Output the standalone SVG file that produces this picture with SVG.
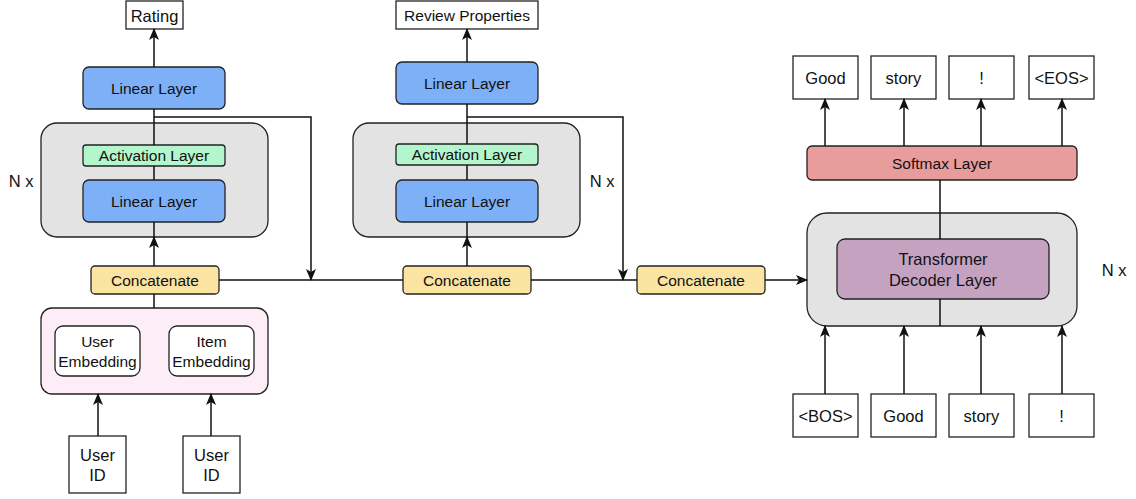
<svg xmlns="http://www.w3.org/2000/svg" width="1136" height="499" viewBox="0 0 1136 499">
<defs>
<marker id="arr" markerUnits="userSpaceOnUse" markerWidth="12" markerHeight="10" viewBox="0 0 12 10" refX="11" refY="5" orient="auto">
<path d="M0,0 L12,5 L0,10 L3,5 Z" fill="#111"/>
</marker>
</defs>
<style>
text{font-family:"Liberation Sans",Arial,sans-serif;fill:#111;text-anchor:middle;dominant-baseline:central}
.t{font-size:15.5px}
.b{font-size:16.5px}
.box{fill:#fff;stroke:#222;stroke-width:1.3}
.lin{fill:#7eb0f8;stroke:#222;stroke-width:1.3}
.act{fill:#b3f5cc;stroke:#222;stroke-width:1.3}
.cat{fill:#fbe3a2;stroke:#222;stroke-width:1.3}
.grey{fill:#e3e3e3;stroke:#222;stroke-width:1.3}
.pink{fill:#fcedf6;stroke:#222;stroke-width:1.3}
.emb{fill:#fff;stroke:#222;stroke-width:1.3}
.soft{fill:#e99c9c;stroke:#222;stroke-width:1.3}
.tdl{fill:#c6a2c1;stroke:#222;stroke-width:1.3}
.c{fill:none;stroke:#111;stroke-width:1.5}
.a{fill:none;stroke:#111;stroke-width:1.5;marker-end:url(#arr)}
</style>

<!-- Left stack -->
<g id="rating"><rect class="box" x="126" y="1" width="57" height="28"/><text class="b" x="154.5" y="15.5">Rating</text></g>
<g id="linear1"><rect class="lin" x="83" y="67" width="142" height="42" rx="6"/><text class="t" x="154" y="88">Linear Layer</text></g>
<g id="block1"><rect class="grey" x="41" y="123" width="227" height="114" rx="16"/></g>
<g id="act1"><rect class="act" x="83" y="145" width="142" height="21" rx="3"/><text class="t" x="154" y="155.5">Activation Layer</text></g>
<g id="linear1b"><rect class="lin" x="83" y="180" width="142" height="42" rx="6"/><text class="t" x="154" y="201">Linear Layer</text></g>
<g id="nx1"><text class="b" x="21" y="181">N x</text></g>
<g id="concat1"><rect class="cat" x="91" y="266" width="128" height="28" rx="4"/><text class="t" x="155" y="280">Concatenate</text></g>
<g id="embed"><rect class="pink" x="41" y="308" width="227" height="86" rx="11"/></g>
<g id="userEmb"><rect class="emb" x="55" y="326" width="85" height="50" rx="8"/><text class="t" x="97.5" y="341">User</text><text class="t" x="97.5" y="361">Embedding</text></g>
<g id="itemEmb"><rect class="emb" x="169" y="326" width="85" height="50" rx="8"/><text class="t" x="211.5" y="341">Item</text><text class="t" x="211.5" y="361">Embedding</text></g>
<g id="userId1"><rect class="box" x="69" y="436" width="57" height="57"/><text class="b" x="97.5" y="455">User</text><text class="b" x="97.5" y="475">ID</text></g>
<g id="userId2"><rect class="box" x="183" y="436" width="57" height="57"/><text class="b" x="211.5" y="455">User</text><text class="b" x="211.5" y="475">ID</text></g>

<!-- Middle stack -->
<g id="review"><rect class="box" x="396" y="1" width="142" height="28"/><text class="t" x="467" y="15.5">Review Properties</text></g>
<g id="linear2"><rect class="lin" x="396" y="62" width="142" height="42" rx="6"/><text class="t" x="467" y="83">Linear Layer</text></g>
<g id="block2"><rect class="grey" x="353" y="123" width="227" height="114" rx="16"/></g>
<g id="act2"><rect class="act" x="396" y="144" width="142" height="21" rx="3"/><text class="t" x="467" y="154.5">Activation Layer</text></g>
<g id="linear2b"><rect class="lin" x="396" y="180" width="142" height="42" rx="6"/><text class="t" x="467" y="201">Linear Layer</text></g>
<g id="nx2"><text class="b" x="602" y="181">N x</text></g>
<g id="concat2"><rect class="cat" x="403" y="266" width="128" height="28" rx="4"/><text class="t" x="467" y="280">Concatenate</text></g>
<g id="concat3"><rect class="cat" x="637" y="266" width="128" height="28" rx="4"/><text class="t" x="701" y="280">Concatenate</text></g>

<!-- Right stack -->
<g id="outGood"><rect class="box" x="793" y="56" width="65" height="43"/><text class="b" x="825.5" y="77.5">Good</text></g>
<g id="outStory"><rect class="box" x="871" y="56" width="65" height="43"/><text class="b" x="903.5" y="77.5">story</text></g>
<g id="outBang"><rect class="box" x="949" y="56" width="65" height="43"/><text class="b" x="981.5" y="77.5">!</text></g>
<g id="outEos"><rect class="box" x="1029" y="56" width="65" height="43"/><text class="b" x="1061.5" y="77.5">&lt;EOS&gt;</text></g>
<g id="softmax"><rect class="soft" x="807" y="146" width="270" height="34" rx="5"/><text class="t" x="942" y="163">Softmax Layer</text></g>
<g id="decoderBlock"><rect class="grey" x="807" y="213" width="270" height="113" rx="20"/></g>
<g id="decoder"><rect class="tdl" x="837" y="239" width="212" height="60" rx="8"/><text class="b" x="943" y="259">Transformer</text><text class="b" x="943" y="280">Decoder Layer</text></g>
<g id="nx3"><text class="b" x="1114" y="270">N x</text></g>
<g id="inBos"><rect class="box" x="793" y="394" width="65" height="43"/><text class="b" x="825.5" y="415.5">&lt;BOS&gt;</text></g>
<g id="inGood"><rect class="box" x="871" y="394" width="65" height="43"/><text class="b" x="903.5" y="415.5">Good</text></g>
<g id="inStory"><rect class="box" x="949" y="394" width="65" height="43"/><text class="b" x="981.5" y="415.5">story</text></g>
<g id="inBang"><rect class="box" x="1029" y="394" width="65" height="43"/><text class="b" x="1061.5" y="415.5">!</text></g>

<g id="connectors">
<path class="a" d="M154,67 V29"/>
<path class="c" d="M154,109 V145 M154,166 V180"/>
<path class="a" d="M154,117 H311 V280"/>
<path class="a" d="M154,266 V237"/>
<path class="c" d="M154,237 V222"/>
<path class="c" d="M154,294 V308"/>
<path class="c" d="M219,280 H403"/>
<path class="a" d="M98,436 V394"/>
<path class="a" d="M211,436 V394"/>
<path class="a" d="M467,62 V29"/>
<path class="c" d="M467,104 V144 M467,165 V180"/>
<path class="a" d="M467,117 H623 V280"/>
<path class="a" d="M467,266 V237"/>
<path class="c" d="M467,237 V222"/>
<path class="c" d="M531,280 H637"/>
<path class="a" d="M765,280 H807"/>
<path class="a" d="M825,146 V99"/>
<path class="a" d="M904,146 V99"/>
<path class="a" d="M981,146 V99"/>
<path class="a" d="M1062,146 V99"/>
<path class="c" d="M940,180 V239"/>
<path class="c" d="M940,299 V326"/>
<path class="a" d="M825,394 V326"/>
<path class="a" d="M904,394 V326"/>
<path class="a" d="M981,394 V326"/>
<path class="a" d="M1062,394 V326"/>
</g>
</svg>
